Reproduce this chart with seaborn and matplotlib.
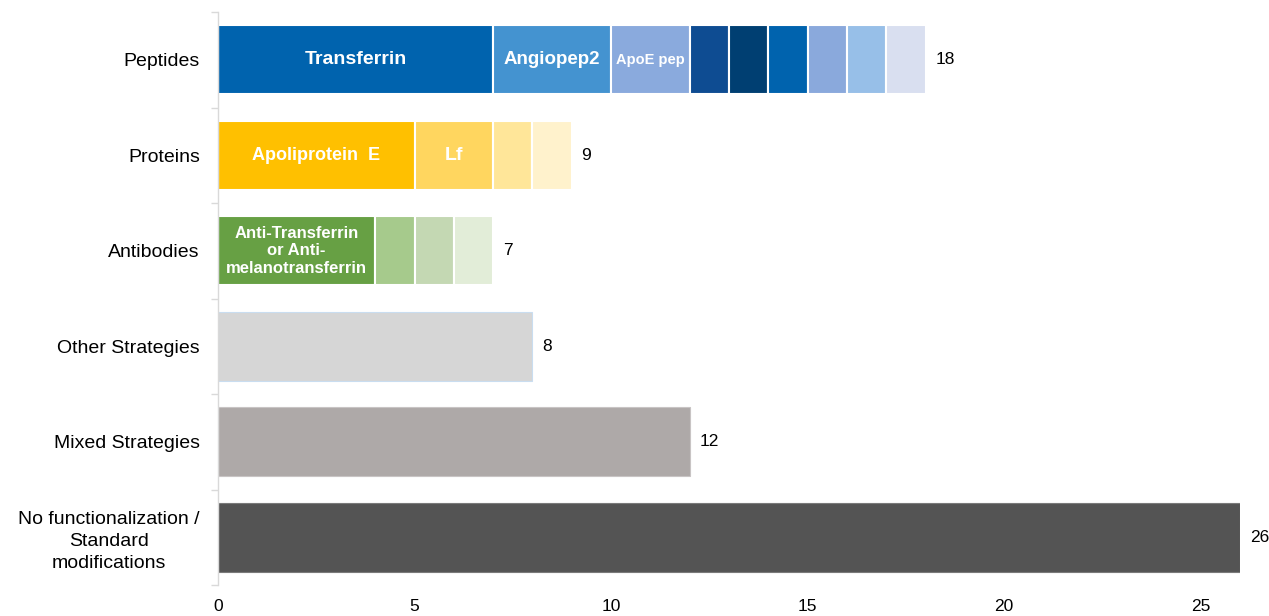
import matplotlib
matplotlib.use("Agg")
import matplotlib.pyplot as plt
import seaborn as sns
import numpy as np

categories = ["Peptides", "Proteins", "Antibodies", "Other Strategies",
              "Mixed Strategies", "No functionalization /\nStandard\nmodifications"]

# segment widths for each category (stacked left to right)
peptide_segments = [7, 3, 2, 1, 1, 1, 1, 1, 1]
protein_segments = [5, 2, 1, 1]
antibody_segments = [4, 1, 1, 1]
other_segments = [8]
mixed_segments = [12]
nofunc_segments = [26]

peptide_labels = ["Transferrin", "Angiopep2", "ApoE pep", "", "", "", "", "", ""]
protein_labels = ["Apoliprotein  E", "Lf", "", ""]
antibody_labels = ["Anti-Transferrin\nor Anti-\nmelanotransferrin", "", "", ""]

totals = [18, 9, 7, 8, 12, 26]
xticks = [0, 5, 10, 15, 20, 25]

peptide_colors = ["#0063AE", "#4493D0", "#8AAADD", "#0E4C92", "#003F72",
                  "#0063AE", "#8AA9DC", "#97BFE8", "#D9DFF0"]
protein_colors = ["#FFC000", "#FFD65F", "#FFE699", "#FFF2CC"]
antibody_colors = ["#67A044", "#A6CA8C", "#C4D8B3", "#E2EDD8"]
other_colors = ["#D6D6D6"]
mixed_colors = ["#AEA9A8"]
nofunc_colors = ["#545454"]

label_sizes = {"Transferrin": 14, "Angiopep2": 13.5, "ApoE pep": 10.5,
               "Apoliprotein  E": 13, "Lf": 14,
               "Anti-Transferrin\nor Anti-\nmelanotransferrin": 12}

sns.set_theme(style="white")
plt.rcParams["font.family"] = ["Liberation Sans", "DejaVu Sans"]

fig = plt.figure(figsize=(12.69, 6.16), dpi=100)
ax = fig.add_axes([218 / 1269, 1 - 585 / 616, (1240 - 218) / 1269, (585 - 12) / 616])

rows = [
    (peptide_segments, peptide_colors, peptide_labels, "white"),
    (protein_segments, protein_colors, protein_labels, "white"),
    (antibody_segments, antibody_colors, antibody_labels, "white"),
    (other_segments, other_colors, [""], "#C9DDF0"),
    (mixed_segments, mixed_colors, [""], "#C8C4C4"),
    (nofunc_segments, nofunc_colors, [""], "#7A7A7A"),
]

bar_h = 0.72
for i, (widths, colors, labels, edge) in enumerate(rows):
    starts = np.concatenate([[0], np.cumsum(widths)[:-1]])
    for s, w, c, lab in zip(starts, widths, colors, labels):
        if len(widths) > 1:
            ec, lw = "white", 1.5
        else:
            ec, lw = edge, 0.8
        ax.barh(i, w, left=s, height=bar_h, color=c, edgecolor=ec, linewidth=lw)
        if lab:
            ax.text(s + w / 2, i, lab, ha="center", va="center", color="white",
                    fontweight="bold", fontsize=label_sizes.get(lab, 12),
                    linespacing=1.2)

for i, t in enumerate(totals):
    ax.text(t + 0.25, i, str(t), ha="left", va="center", fontsize=12.5,
            color="black", clip_on=False)

ax.set_xlim(0, 26)
ax.set_ylim(len(categories) - 0.5, -0.5)

# category labels at bar centres, tick marks at the boundaries between them
ax.set_yticks(np.arange(len(categories)))
ax.set_yticklabels(categories, fontsize=14, color="black")
for lab in ax.get_yticklabels():
    lab.set_multialignment("center")
    lab.set_linespacing(1.35)
ax.set_yticks(np.arange(len(categories) + 1) - 0.5, minor=True)
ax.tick_params(axis="y", which="major", length=0, pad=13)
ax.tick_params(axis="y", which="minor", length=5, color="#D9D9D9", width=1, left=True, direction="out")

ax.set_xticks(xticks)
ax.set_xticklabels([str(x) for x in xticks], fontsize=12.5, color="black")
ax.tick_params(axis="x", length=0, pad=10)

for side in ["top", "right", "bottom"]:
    ax.spines[side].set_visible(False)
ax.spines["left"].set_color("#D9D9D9")
ax.spines["left"].set_linewidth(1)

fig.savefig("out.png", dpi=100, facecolor="white")
